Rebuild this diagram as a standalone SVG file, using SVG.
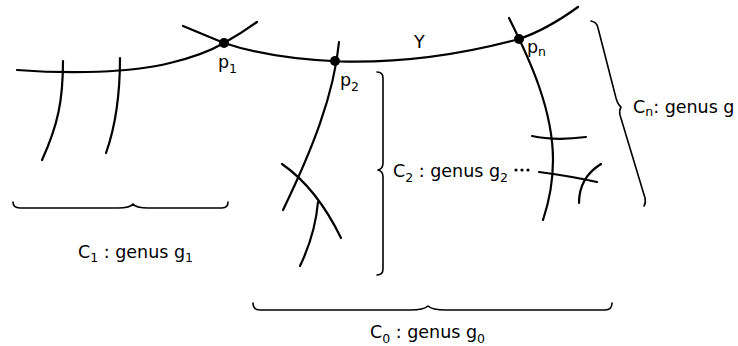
<svg xmlns="http://www.w3.org/2000/svg" width="738" height="346" viewBox="0 0 738 346">
<style>
.c{fill:none;stroke:#000;stroke-width:2.2;stroke-linecap:round;stroke-linejoin:round}
.b{fill:none;stroke:#000;stroke-width:1.6;stroke-linecap:round;stroke-linejoin:round}
.t{font-family:"DejaVu Sans",sans-serif;font-size:17.5px;fill:#000}
.s{font-size:12.5px}
.d{fill:#000}
</style>
<rect width="738" height="346" fill="#fff"/>
<g id="connectors">
<path class="c" d="M17,70 C70,74 130,73 170,63 C195,57 212,50 224,43 Q242,33 257,22"/>
<path class="c" d="M183,26 C200,33 212,38 224,43 C260,55 300,60 340,61.5 C400,63 460,55 519,39 C540,32 560,20 578,7"/>
<path class="c" d="M63,61 C63,100 58,125 42,160"/>
<path class="c" d="M120,58 C120,95 116,125 106,153"/>
<path class="c" d="M339,42 C334,95 312,150 283,210"/>
<path class="c" d="M282,164 C305,180 325,205 341,238"/>
<path class="c" d="M318,202 C316,225 310,245 300,266"/>
<path class="c" d="M509,18 C530,60 553,110 553,160 C553,185 548,205 543,220"/>
<path class="c" d="M532,136 Q555,141 586,137"/>
<path class="c" d="M539,172 Q570,176 597,182"/>
<path class="c" d="M601,164 C588,172 579,185 579,203"/>
</g>
<g id="p1"><circle class="d" cx="224" cy="43" r="5"/><text class="t" x="218" y="68">p<tspan class="s" dy="5">1</tspan></text></g>
<g id="p2"><circle class="d" cx="335" cy="61" r="5"/><text class="t" x="340" y="86">p<tspan class="s" dy="5">2</tspan></text></g>
<g id="pn"><circle class="d" cx="519" cy="39" r="5"/><text class="t" x="527" y="53">p<tspan class="s" dy="3">n</tspan></text></g>
<g id="Y"><text class="t" x="414" y="48">Y</text></g>
<g id="C1">
<path class="b" d="M13,202 Q13,208 20,208 L118,208 Q130,208 133,204 Q136,208 148,208 L222,208 Q228,208 228,202"/>
<text class="t" x="78" y="258">C<tspan class="s" dy="4">1</tspan><tspan dy="-4"> : genus g</tspan><tspan class="s" dy="4">1</tspan></text>
</g>
<g id="C2">
<path class="b" d="M377,72 Q383,72 383,78 L383,163 Q383,169 378,170 Q383,171 383,177 L383,269 Q383,275 377,275"/>
<text class="t" x="393" y="177">C<tspan class="s" dy="5">2</tspan><tspan dy="-5"> : genus g</tspan><tspan class="s" dy="5">2</tspan></text>
<circle class="d" cx="516" cy="170" r="1.6"/><circle class="d" cx="522" cy="170" r="1.6"/><circle class="d" cx="528" cy="170" r="1.6"/>
</g>
<g id="Cn">
<path class="b" d="M591,21 Q597,22 598,28 L616,98 Q618,105 621,107 Q619,110 620,115 L645,198 Q646,203 644,206"/>
<text class="t" x="633" y="113">C<tspan class="s" dy="3">n</tspan><tspan dy="-3">: genus g</tspan></text>
</g>
<g id="C0">
<path class="b" d="M253,303 Q253,310 260,310 L410,310 Q424,310 428,306 Q432,310 446,310 L605,310 Q612,310 612,303"/>
<text class="t" x="370" y="338">C<tspan class="s" dy="5">0</tspan><tspan dy="-5"> : genus g</tspan><tspan class="s" dy="5">0</tspan></text>
</g>
</svg>
